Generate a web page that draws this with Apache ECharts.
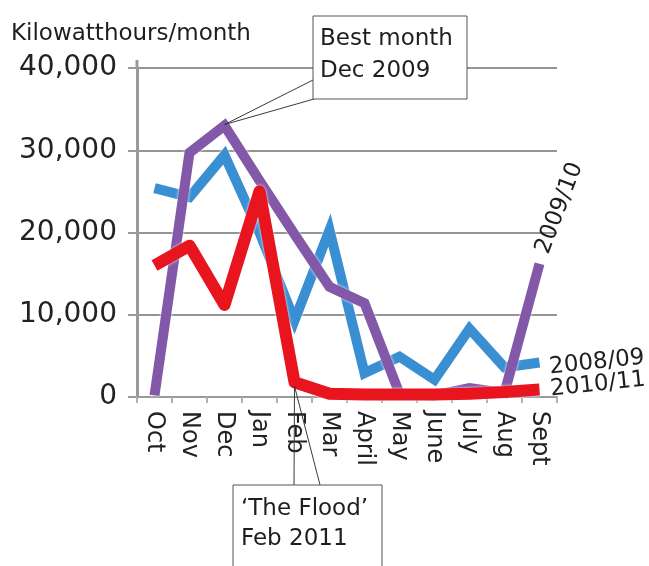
<!DOCTYPE html>
<html>
<head>
<meta charset="utf-8">
<script src="https://cdn.jsdelivr.net/npm/echarts@6/dist/echarts.min.js"></script>
<style>
html,body{margin:0;padding:0;background:#fff;}
#c{width:649px;height:566px;}
</style>
</head>
<body>
<div id="c"></div>
<script>
const categories = ['Oct','Nov','Dec','Jan','Feb','Mar','April','May','June','July','Aug','Sept'];
const yTicks = [0, 10000, 20000, 30000, 40000];
const s0809 = [25400, 24300, 29400, 20000, 9300, 20300, 2900, 4900, 2100, 8300, 3600, 4200];
const s0910 = [200, 29700, 33000, 26300, 19800, 13400, 11400, 400, 200, 1100, 500, 16200];
const s1011 = [16000, 18400, 11200, 25000, 1800, 400, 300, 300, 300, 400, 600, 900];
const seriesNames = ['2008/09', '2009/10', '2010/11'];
const seriesColors = ['#3a8fd2', '#8358a8', '#e8141e'];

const FONT = 'DejaVu Sans';
const chart = echarts.init(document.getElementById('c'), null, {renderer: 'canvas'});

const base = {
  animation: false,
  backgroundColor: '#ffffff',
  grid: {left: 137, right: 92, top: 68, bottom: 169, containLabel: false},
  xAxis: {
    type: 'category',
    data: categories,
    boundaryGap: true,
    axisLine: {show: true, lineStyle: {color: '#9a9a9a', width: 2}},
    axisTick: {show: true, interval: 0, length: 6, lineStyle: {color: '#b0b0b0', width: 2}},
    axisLabel: {rotate: -90, margin: 14, fontFamily: FONT, fontSize: 24, color: '#222', interval: 0}
  },
  yAxis: {
    type: 'value',
    min: yTicks[0],
    max: yTicks[yTicks.length - 1],
    interval: yTicks[1] - yTicks[0],
    axisLine: {show: true, lineStyle: {color: '#9a9a9a', width: 3}},
    axisTick: {show: true, length: 9, lineStyle: {color: '#9a9a9a', width: 2}},
    splitLine: {show: true, lineStyle: {color: '#949494', width: 2}},
    axisLabel: {
      margin: 20, fontFamily: FONT, fontSize: 28, color: '#222',
      formatter: v => v.toLocaleString('en-US')
    }
  },
  series: [s0809, s0910, s1011].map((d, i) => ({
    name: seriesNames[i],
    type: 'line',
    data: d,
    showSymbol: false,
    symbol: 'none',
    z: 2 + i,
    lineStyle: {
      color: seriesColors[i],
      width: i === 2 ? 12 : 10,
      cap: 'butt',
      join: i === 2 ? 'round' : 'miter',
      shadowColor: 'rgba(255,255,255,0.95)',
      shadowBlur: 3
    }
  }))
};
chart.setOption(base);

const pBest = chart.convertToPixel({seriesIndex: 1}, [2, s0910[2]]);
const pFlood = chart.convertToPixel({seriesIndex: 2}, [4, s1011[4]]);
const e0809 = chart.convertToPixel({seriesIndex: 0}, [11, s0809[11]]);
const e0910 = chart.convertToPixel({seriesIndex: 1}, [11, s0910[11]]);
const e1011 = chart.convertToPixel({seriesIndex: 2}, [11, s1011[11]]);

const lineStyle = {stroke: '#3a3a3a', lineWidth: 1};
const txt = (x, y, text, size, extra) => Object.assign({
  type: 'text', x: x, y: y, z: 100,
  style: {text: text, fontFamily: FONT, fontSize: size, fill: '#1e1e1e', textAlign: 'left', textVerticalAlign: 'middle'}
}, extra || {});

chart.setOption({
  graphic: [
    txt(11, 34, 'Kilowatthours/month', 23),
    {type: 'line', z: 1, shape: {x1: 137, y1: 60, x2: 137, y2: 68}, style: {stroke: '#9a9a9a', lineWidth: 3}},
    // Best month callout
    {type: 'line', z: 90, shape: {x1: pBest[0], y1: pBest[1] - 1, x2: 313, y2: 80}, style: lineStyle},
    {type: 'line', z: 90, shape: {x1: pBest[0], y1: pBest[1] - 1, x2: 314, y2: 99}, style: lineStyle},
    {type: 'rect', z: 95, shape: {x: 313, y: 16, width: 154, height: 83}, style: {fill: '#fff', stroke: '#555', lineWidth: 1}},
    txt(320, 39, 'Best month', 23),
    txt(320, 71, 'Dec 2009', 23),
    // Flood callout
    {type: 'line', z: 90, shape: {x1: pFlood[0], y1: pFlood[1] + 4, x2: 294, y2: 485}, style: lineStyle},
    {type: 'line', z: 90, shape: {x1: pFlood[0], y1: pFlood[1] + 4, x2: 320, y2: 485}, style: lineStyle},
    {type: 'rect', z: 95, shape: {x: 233, y: 485, width: 149, height: 120}, style: {fill: '#fff', stroke: '#555', lineWidth: 1}},
    txt(241, 509, '\u2018The Flood\u2019', 23),
    txt(241, 539, 'Feb 2011', 23),
    // series labels
    txt(e0910[0] + 3, e0910[1] - 11, seriesNames[1], 23, {rotation: 69 * Math.PI / 180}),
    txt(e0809[0] + 10, e0809[1] + 5, seriesNames[0], 23, {rotation: 6 * Math.PI / 180}),
    txt(e1011[0] + 11, e1011[1] + 0, seriesNames[2], 23, {rotation: 6 * Math.PI / 180})
  ]
});
</script>
</body>
</html>
